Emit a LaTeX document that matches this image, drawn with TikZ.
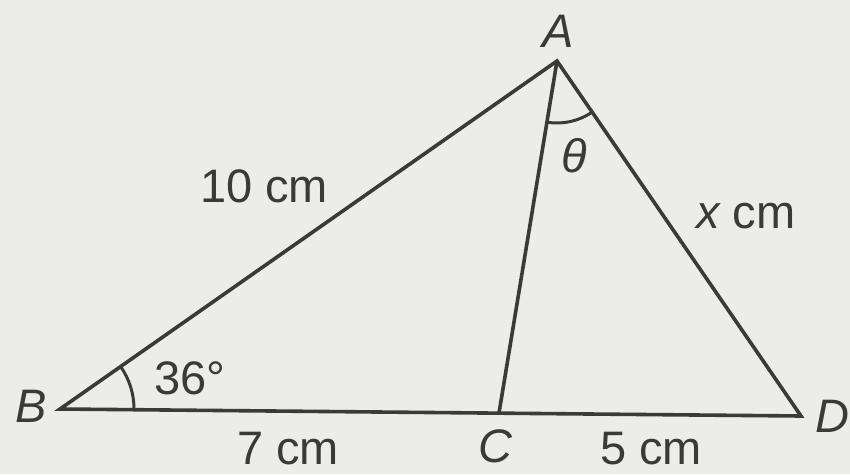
\documentclass[tikz,border=0pt]{standalone}
\usepackage{fontspec}
\setmainfont{Liberation Sans}
\usetikzlibrary{angles}
\definecolor{paper}{RGB}{236,236,234}
\definecolor{ink}{RGB}{58,58,58}
\tikzset{
  edge/.style={draw=ink,line width=3.6pt,line join=miter},
  arcmark/.style={draw=ink,line width=3pt},
  lbl/.style={text=ink,font=\fontsize{47}{50}\selectfont,inner sep=0pt},
}
\begin{document}
\begin{tikzpicture}[x=1pt,y=-1pt]
\fill[paper] (0,0) rectangle (850,474);
\useasboundingbox (0,0) rectangle (850,474);
\coordinate (A) at (557,61);
\coordinate (B) at (60,409);
\coordinate (C) at (499,413);
\coordinate (D) at (801,416);
\draw[edge] (B) -- (A) -- (D) -- cycle;
\draw[edge] (A) -- (C);
\pic[arcmark, angle radius=74pt] {angle = C--B--A};
\pic[arcmark, angle radius=62pt] {angle = C--A--D};
\node[lbl] (lA) at (558,31) {\itshape A};
\node[lbl] (lB) at (31,406) {\itshape B};
\node[lbl] (lC) at (495,446) {\itshape C};
\node[lbl] (lD) at (832,416) {\itshape D};
\node[lbl] (l10) at (264,186) {10 cm};
\node[lbl] (lx) at (746,216) {\itshape x\upshape\ cm};
\node[lbl] (l36) at (190,378) {36°};
\node[lbl] (l7) at (288,449) {7 cm};
\node[lbl] (l5) at (651,449) {5 cm};
\node[lbl] (lt) at (574,156) {\itshape θ};
\end{tikzpicture}
\end{document}
